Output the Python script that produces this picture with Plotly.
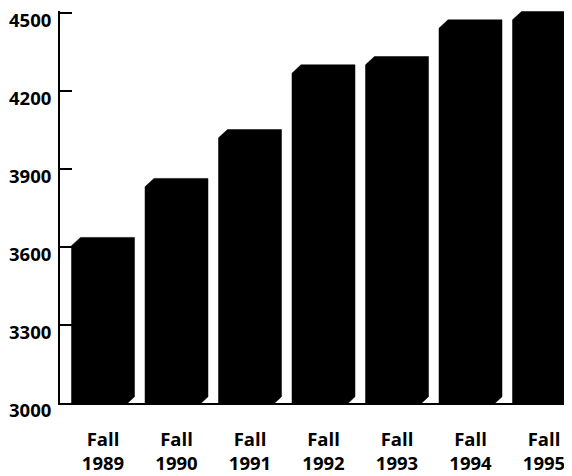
import plotly.graph_objects as go

categories = ["Fall<br>1989", "Fall<br>1990", "Fall<br>1991", "Fall<br>1992",
              "Fall<br>1993", "Fall<br>1994", "Fall<br>1995"]
values = [3605, 3832, 4020, 4269, 4301, 4442, 4474]
y_ticks = [3000, 3300, 3600, 3900, 4200, 4500]

# 3D-look geometry (data units)
half_w = 0.4286      # half of silhouette width in category units
depth_x = 0.1224     # horizontal depth offset
depth_y = 32         # vertical depth offset
base = 3000

fig = go.Figure()
for i, v in enumerate(values):
    xl, xr = i - half_w, i + half_w
    bf = base - 8
    xs = [xl, xl, xl + depth_x, xr, xr, xr - depth_x, xl]
    ys = [bf, v, v + depth_y, v + depth_y, bf + depth_y, bf, bf]
    fig.add_trace(go.Scatter(x=xs, y=ys, mode="lines", fill="toself",
                             fillcolor="black", line=dict(color="black", width=0.5),
                             hoverinfo="skip", showlegend=False))

# y tick labels hang just below their tick marks, as in the reference
for t in y_ticks:
    fig.add_annotation(x=0, xref="paper", y=t, yref="y", text=str(t),
                       showarrow=False, xanchor="right", yanchor="middle",
                       xshift=-7, yshift=-6.5,
                       font=dict(family="Open Sans", size=18.5, color="black",
                                 weight="bold"))

fig.update_layout(
    width=564, height=468,
    margin=dict(l=52, r=0, t=3, b=73, autoexpand=False),
    paper_bgcolor="white", plot_bgcolor="white",
    showlegend=False,
    xaxis=dict(range=[-0.585, 6.381], tickmode="array",
               tickvals=list(range(len(categories))), ticktext=categories,
               showgrid=False, zeroline=False, showline=True, linecolor="black",
               linewidth=2, ticks="",
               tickfont=dict(family="Open Sans", size=18.5, color="black", weight="bold"),
               ticklabelstandoff=19),
    yaxis=dict(range=[3000, 4508], tickmode="array", tickvals=y_ticks,
               showticklabels=False,
               showgrid=False, zeroline=False, showline=True, linecolor="black",
               linewidth=2, ticks="inside", ticklen=12, tickwidth=2,
               tickcolor="black"),
)

fig.write_html("out.html")
